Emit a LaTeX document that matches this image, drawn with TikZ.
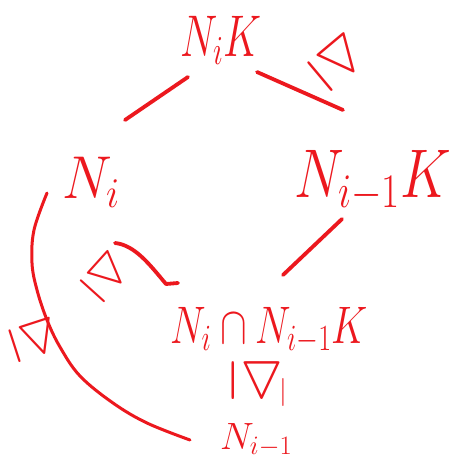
\RequirePackage{fix-cm}
\documentclass[tikz,border=0pt]{standalone}
\usepackage{amssymb}
\definecolor{ink}{RGB}{236,24,30}
\begin{document}
\begin{tikzpicture}[x=1pt,y=-1pt,
  stroke/.style={draw=ink, line width=3.8pt, line cap=round, line join=round},
  lbl/.style={text=ink, inner sep=0pt, anchor=base west},
  sym/.style={text=ink, inner sep=0pt}]
\fill[white] (0,0) rectangle (454,459);
\useasboundingbox (0,0) rectangle (454,459);

\node[lbl, yscale=1.4, font=\fontsize{42}{42}\selectfont] (gtop) at (180,56) {$N_iK$};
\node[lbl, yscale=1.08, font=\fontsize{56}{56}\selectfont] (gni) at (62,198) {$N_i$};
\node[lbl, yscale=1.23, font=\fontsize{56}{56}\selectfont] (gnik) at (294,197) {$N_{i-1}K$};
\node[lbl, yscale=1.32, font=\fontsize{40}{40}\selectfont] (gmid) at (170,343) {$N_i\cap N_{i-1}K$};
\node[lbl, font=\fontsize{38}{38}\selectfont] (gbot) at (220,449) {$N_{i-1}$};

\node[sym, rotate=-50, font=\fontsize{62}{62}\selectfont] (s1) at (338,62) {$\trianglerighteq$};
\node[sym, rotate=-42, font=\fontsize{54}{54}\selectfont] (s2) at (106,277) {$\trianglerighteq$};
\node[sym, rotate=-72, font=\fontsize{56}{56}\selectfont] (s3) at (35,340) {$\trianglerighteq$};
\node[sym, rotate=-90, font=\fontsize{62}{62}\selectfont] (s4) at (256,381) {$\trianglerighteq$};
\node[sym, font=\fontsize{28}{28}\selectfont] (s4b) at (283,392) {$|$};

\coordinate (a1) at (188,77);  \coordinate (a2) at (125,120);
\coordinate (b1) at (257,72);  \coordinate (b2) at (343,110);
\coordinate (c1) at (115,243); \coordinate (cm) at (166,284); \coordinate (c2) at (178,283);
\coordinate (d1) at (342,219); \coordinate (d2) at (283,275);
\coordinate (e1) at (47,193);  \coordinate (e2) at (190,440);

\draw[stroke] (a1) -- (a2);
\draw[stroke] (b1) -- (b2);
\draw[stroke] (c1) .. controls (135,245) and (150,265) .. (cm) -- (c2);
\draw[stroke] (d1) -- (d2);
\draw[stroke, line width=3pt] plot[smooth, tension=0.6] coordinates
  {(e1) (34,230) (32,263) (37,290) (47,320) (60,347) (80,376) (113,403) (147,423) (e2)};
\end{tikzpicture}
\end{document}
